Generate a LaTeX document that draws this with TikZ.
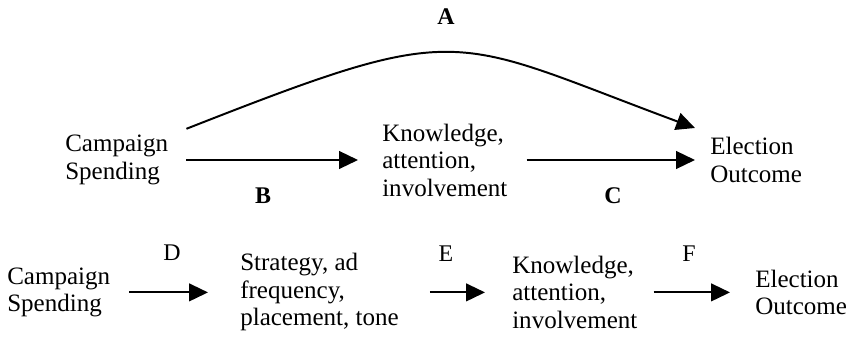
\documentclass[tikz,border=0pt]{standalone}
\usepackage{fontspec}
\setmainfont{Liberation Serif}
\usetikzlibrary{arrows.meta, positioning}
\tikzstyle{factor} = [anchor=west, align=left, inner sep=0pt, font=\fontsize{17.8}{19.6}\selectfont]
\tikzstyle{effect} = [inner sep=0pt, font=\fontsize{17}{19}\selectfont\bfseries]
\tikzstyle{stage} = [inner sep=0pt, font=\fontsize{17}{19}\selectfont]
\tikzstyle{arrow} = [line width=1.4pt, -{Triangle[length=0.47cm, width=0.44cm]}]

\begin{document}
\begin{tikzpicture}
\useasboundingbox (0,0) rectangle (21.3,-8.525);

% Direct and mediated effect of spending
\node[factor] (spend1) at (1.625,-4.0) {Campaign\\Spending};
\node[factor] (know1) at (9.55,-4.0) {Knowledge,\\attention,\\involvement};
\node[factor] (elect1) at (17.75,-4.0) {Election\\Outcome};

\draw[arrow] ([xshift=0.45cm, yshift=0.78cm]spend1.east) .. controls +(7.0,2.75) and +(-6.2,2.3) .. ([xshift=-0.375cm, yshift=0.8cm]elect1.west);
\node[effect] (A) at (11.15,-0.41) {A};
\draw[arrow, shorten <=0.45cm, shorten >=0.6cm] (spend1.east) -- (know1.west);
\node[effect] (B) at (6.575,-4.89) {B};
\draw[arrow, shorten <=0.475cm, shorten >=0.375cm] (know1.east) -- (elect1.west);
\node[effect] (C) at (15.325,-4.9) {C};

% Chain through campaign strategy
\node[factor] (spend2) at (0.175,-7.31) {Campaign\\Spending};
\node[factor] (strat2) at (6.0,-7.31) {Strategy, ad\\frequency,\\placement, tone};
\node[factor] (know2) at (12.8,-7.31) {Knowledge,\\attention,\\involvement};
\node[factor] (elect2) at (18.875,-7.31) {Election\\Outcome};

\draw[arrow, shorten <=0.475cm, shorten >=0.8cm] (spend2.east) -- (strat2.west);
\node[stage] (D) at (4.3,-6.325) {D};
\draw[arrow, shorten <=0.775cm, shorten >=0.675cm] (strat2.east) -- (know2.west);
\node[stage] (E) at (11.15,-6.35) {E};
\draw[arrow, shorten <=0.4cm, shorten >=0.625cm] (know2.east) -- (elect2.west);
\node[stage] (F) at (17.225,-6.35) {F};

\end{tikzpicture}
\end{document}
